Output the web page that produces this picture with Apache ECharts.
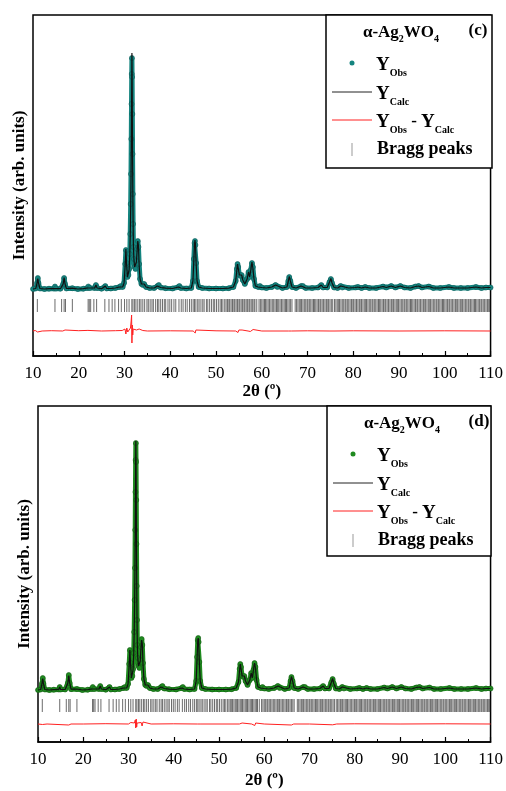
<!DOCTYPE html>
<html>
<head>
<meta charset="utf-8">
<script src="https://cdn.jsdelivr.net/npm/echarts@6/dist/echarts.min.js"></script>
<style>
  html, body { margin: 0; padding: 0; background: #fff; }
  #main { width: 506px; height: 791px; }
</style>
</head>
<body>
<div id="main"></div>
<script>
// 2theta grid shared by the observed / calculated patterns of both samples
var twoTheta = [
  10.0, 10.6, 10.9, 11.05, 11.2, 11.5, 12.5, 13.5, 14.6, 14.8,
  15.0, 16.0, 16.6, 16.8, 17.0, 17.3, 18.6, 19.8, 21.0, 21.9,
  22.1, 22.4, 23.5, 23.75, 24.0, 25.0, 25.8, 26.1, 27.0, 28.0,
  28.9, 29.2, 29.6, 29.9, 30.15, 30.3, 30.45, 30.65, 30.85, 31.0,
  31.15, 31.25, 31.35, 31.42, 31.48, 31.53, 31.58, 31.62, 31.66, 31.71,
  31.76, 31.82, 31.88, 31.95, 32.05, 32.2, 32.4, 32.6, 32.75, 32.9,
  33.05, 33.2, 33.4, 33.7, 34.0, 34.3, 34.7, 35.5, 36.5, 37.2,
  37.5, 37.9, 39.0, 40.5, 41.8, 42.0, 42.3, 43.5, 44.6, 44.95,
  45.15, 45.3, 45.4, 45.5, 45.65, 45.85, 46.2, 47.0, 48.5, 50.0,
  51.5, 52.8, 53.8, 54.3, 54.55, 54.7, 54.85, 55.1, 55.4, 55.6,
  55.85, 56.3, 56.8, 57.1, 57.35, 57.6, 57.85, 58.05, 58.3, 58.6,
  59.2, 59.6, 60.0, 61.0, 62.2, 63.0, 63.4, 64.5, 65.5, 65.8,
  66.0, 66.25, 66.6, 67.5, 68.6, 69.0, 69.6, 71.0, 72.3, 73.0,
  73.4, 74.3, 74.8, 75.1, 75.35, 75.8, 76.6, 77.2, 77.6, 79.0,
  80.5, 81.0, 81.8, 82.6, 83.5, 85.0, 86.5, 87.2, 88.3, 89.2,
  90.3, 91.2, 92.5, 93.6, 94.3, 95.0, 96.5, 97.5, 99.0, 100.9,
  102.0, 103.5, 105.0, 106.8, 108.0, 109.0, 110.0
];

// panel (c)
var obsC = [
  0, 0.5, 6, 11, 6, 0.5, 0, 0.3, 0.5, 2.5,
  0.5, 0.3, 5, 11, 5, 0.5, 0.8, 0, 0.3, 1,
  2.5, 1, 1, 4, 1, 0.3, 3, 0.5, 0.5, 1,
  2, 3, 2, 6, 25, 39, 26, 12, 14, 20,
  35, 55, 85, 115, 150, 185, 215, 231, 212, 175,
  135, 95, 65, 42, 30, 22, 20, 28, 40, 48,
  42, 25, 10, 5, 4, 5, 2, 1, 1, 3,
  4, 1.5, 0.8, 0.5, 2, 3, 1, 0.5, 1, 8,
  30, 46, 48, 44, 26, 8, 2, 1, 0.5, 0.5,
  0.5, 0.8, 2, 8, 20, 25, 22, 14, 13, 14,
  9, 5, 10, 17, 12, 19, 26, 22, 10, 3,
  2, 3, 1.5, 1, 2, 4, 2, 1, 2, 8,
  12, 8, 2, 1, 3, 3, 1, 1, 1.5, 4,
  1.5, 1.5, 7, 10, 6, 1.5, 1, 3, 1.5, 1,
  1.5, 2, 1, 2, 1, 1, 2.5, 1.5, 3, 1.5,
  3, 1.5, 1, 2.5, 3, 1.5, 2.5, 1, 1, 2,
  1, 1, 1, 2, 1, 1.5, 1.5
];
var calcC = [
  0, 0.5, 6, 10.5, 6, 0.5, 0, 0.3, 0.5, 2.5,
  0.5, 0.3, 5, 11.5, 5, 0.5, 0.8, 0, 0.3, 1,
  2.5, 1, 1, 4, 1, 0.3, 3, 0.5, 0.5, 1,
  2, 3, 2, 6, 24, 40, 25, 12, 14, 19,
  34, 53, 82, 110, 140, 172, 205, 236, 216, 172,
  134, 96, 66, 42, 30, 22, 20, 27, 38, 48,
  43, 23, 10, 5, 4, 5, 2, 1, 1, 3,
  4, 1.5, 0.8, 0.5, 2, 3, 1, 0.5, 1, 8,
  29, 45, 49, 45, 26, 8, 2, 1, 0.5, 0.5,
  0.5, 0.8, 2, 8, 19, 25, 23, 14, 13, 14,
  9, 5, 10, 17, 12, 19, 27, 21, 10, 3,
  2, 3, 1.5, 1, 2, 4, 2, 1, 2, 8,
  12.5, 8, 2, 1, 3, 3, 1, 1, 1.5, 4,
  1.5, 1.5, 7, 10.5, 6, 1.5, 1, 3, 1.5, 1,
  1.5, 2, 1, 2, 1, 1, 2.5, 1.5, 3, 1.5,
  3, 1.5, 1, 2.5, 3, 1.5, 2.5, 1, 1, 2,
  1, 1, 1, 2, 1, 1.5, 1.5
];
var diffC = [
  [10, 0], [10.5, 0.5], [11, -1], [11.3, 0.5], [12, 0], [14, 0.3], [16.5, 0], [16.8, -2], [17, 1], [17.3, 0],
  [20, 0.3], [22, 0.6], [22.2, -0.4], [25, 0], [28, 0.3], [29.5, 0.5], [30.1, 2], [30.3, -3], [30.5, 3], [30.7, -1],
  [31, 1], [31.3, 3], [31.45, 10], [31.55, 16], [31.62, -12], [31.7, 6], [31.8, -4], [31.9, 2], [32.1, 0], [32.6, 1],
  [32.85, 3], [33, -1], [33.2, 2], [33.5, 0], [34, 0.5], [35, 0], [40, 0.2], [45, 0], [45.3, 2], [45.45, -2],
  [45.6, 1], [46, 0], [50, 0.2], [54.3, 0], [54.6, 1.5], [54.8, -1.5], [55, 1], [55.4, -0.5], [55.7, 1], [56, 0],
  [57, 0], [57.2, 1], [57.5, -0.5], [57.9, -2], [58.1, 1.5], [58.4, 0], [60, 0], [65.8, 0], [66, -1.5], [66.2, 0.5],
  [66.5, 0], [70, 0.2], [74.9, 0], [75.1, -1], [75.3, 0.5], [76, 0], [80, 0.2], [90, 0], [100, 0.2], [110, 0]
];

// panel (d)
var obsD = [
  0, 0.5, 6.5, 12, 6.5, 0.5, 0, 0.3, 0.5, 3,
  0.5, 0.5, 7, 15, 7, 0.8, 1, 0, 0.3, 1,
  3, 1, 1, 4, 1, 0.3, 3, 0.5, 0.5, 1,
  2, 3, 2, 6, 26, 40, 27, 12, 14, 21,
  37, 58, 90, 122, 160, 198, 230, 247, 228, 190,
  146, 104, 70, 45, 32, 24, 22, 30, 43, 51,
  45, 27, 11, 5, 4, 5, 2, 1, 1, 3,
  4, 1.5, 0.8, 0.5, 2, 3, 1, 0.5, 1, 9,
  33, 50, 52, 48, 28, 9, 2, 1, 0.5, 0.5,
  0.5, 0.8, 2, 8, 21, 26, 23, 14, 13, 14,
  9, 5, 10, 17, 12, 20, 27, 23, 10, 3,
  2, 3, 1.5, 1, 2, 4, 2, 1, 2, 9,
  13, 9, 2, 1, 3, 3, 1, 1, 1.5, 4,
  1.5, 1.5, 7.5, 11, 6.5, 1.5, 1, 3, 1.5, 1,
  1.5, 2, 1, 2, 1, 1, 2.5, 1.5, 3, 1.5,
  3, 1.5, 1, 2.5, 3, 1.5, 2.5, 1, 1, 2,
  1, 1, 1, 2, 1, 1.5, 1.5
];
var calcD = [
  0, 0.5, 6.5, 11.5, 6.5, 0.5, 0, 0.3, 0.5, 3,
  0.5, 0.5, 7, 14.5, 7, 0.8, 1, 0, 0.3, 1,
  3, 1, 1, 4, 1, 0.3, 3, 0.5, 0.5, 1,
  2, 3, 2, 6, 25, 40, 26, 12, 14, 20,
  36, 57, 88, 119, 156, 194, 226, 249, 229, 188,
  146, 103, 70, 45, 32, 24, 22, 29, 42, 50,
  46, 26, 11, 5, 4, 5, 2, 1, 1, 3,
  4, 1.5, 0.8, 0.5, 2, 3, 1, 0.5, 1, 9,
  32, 49, 52, 48, 28, 9, 2, 1, 0.5, 0.5,
  0.5, 0.8, 2, 8, 20, 26, 24, 14, 13, 14,
  9, 5, 10, 17, 12, 20, 27, 22, 10, 3,
  2, 3, 1.5, 1, 2, 4, 2, 1, 2, 9,
  13.5, 9, 2, 1, 3, 3, 1, 1, 1.5, 4,
  1.5, 1.5, 7.5, 11.5, 6.5, 1.5, 1, 3, 1.5, 1,
  1.5, 2, 1, 2, 1, 1, 2.5, 1.5, 3, 1.5,
  3, 1.5, 1, 2.5, 3, 1.5, 2.5, 1, 1, 2,
  1, 1, 1, 2, 1, 1.5, 1.5
];
var diffD = [
  [10, 0], [11, -0.5], [12, 0], [16.8, -1], [17, 0.5], [17.3, 0], [20, 0], [25, 0.3], [30, 0], [30.3, -1.5],
  [30.5, 1.5], [30.8, 0], [31.3, 1], [31.5, 4], [31.6, -4], [31.7, 5], [31.8, -3], [31.9, 1], [32.2, 0], [32.8, 1.5],
  [33.0, -2], [33.2, 2], [33.5, 0], [35, 0], [40, 0.2], [45.2, 0], [45.4, -1.5], [45.6, 1], [46, 0], [50, 0],
  [54.5, 0], [54.7, 2], [54.9, -2], [55.1, 1], [55.5, 0], [57.2, 0], [57.5, 1], [57.9, -1.5], [58.1, 1], [58.4, 0],
  [60, 0], [66, -1], [66.2, 0.5], [66.5, 0], [70, 0], [75.1, -0.8], [75.3, 0.5], [76, 0], [80, 0.2], [90, 0],
  [100, 0.2], [110, 0]
];

// Bragg reflection positions of alpha-Ag2WO4 (same phase in both panels)
var braggPeaks = [
  10.95, 14.8, 16.25, 16.8, 17.1, 18.6, 22.05, 22.3, 22.6, 23.3, 23.9, 25.7, 26.6, 27.3, 27.9, 28.7, 29.3, 30.0, 30.5, 31.0,
  31.6, 31.85, 32.2, 32.5, 32.9, 33.3, 33.6, 34.0, 34.4, 34.9, 35.2, 35.6, 36.0, 36.3, 36.8, 37.2, 37.5, 37.9, 38.3, 38.7,
  39.0, 39.5, 39.9, 40.3, 40.8, 41.2, 41.9, 42.4, 42.8, 43.3, 43.7, 44.2, 44.6, 45.0, 45.3, 45.6, 46.0, 46.3, 46.7, 47.1,
  47.4, 47.9, 48.2, 48.6, 49.0, 49.4, 49.7, 50.1, 50.5, 50.9, 51.2, 51.5, 51.9, 52.2, 52.5, 52.8, 53.0, 53.3, 53.6, 53.9,
  54.1, 54.4, 54.7, 55.0, 55.2, 55.5, 55.8, 56.1, 56.3, 56.6, 56.9, 57.2, 57.4, 57.7, 58.0, 58.3, 58.5, 58.9, 59.4, 59.7,
  60.0, 60.3, 60.6, 60.8, 61.1, 61.4, 61.7, 62.0, 62.3, 62.6, 62.9, 63.2, 63.4, 63.7, 64.0, 64.3, 64.6, 64.9, 65.2, 65.4,
  65.7, 66.0, 66.3, 66.6, 67.3, 67.6, 67.9, 68.2, 68.5, 68.7, 69.0, 69.3, 69.6, 69.9, 70.1, 70.4, 70.7, 71.0, 71.3, 71.5,
  71.8, 72.1, 72.4, 72.7, 72.9, 73.2, 73.5, 73.8, 74.1, 74.3, 74.6, 74.9, 75.2, 75.5, 75.9, 76.2, 76.5, 76.8, 77.0, 77.3,
  77.6, 77.9, 78.2, 78.4, 78.7, 79.0, 79.3, 79.6, 79.9, 80.1, 80.4, 80.7, 81.0, 81.3, 81.5, 81.8, 82.1, 82.4, 82.7, 82.9,
  83.2, 83.5, 83.8, 84.1, 84.3, 84.6, 84.9, 85.2, 85.5, 85.7, 86.0, 86.3, 86.6, 86.9, 87.1, 87.4, 87.7, 88.0, 88.3, 88.5,
  88.8, 89.1, 89.4, 89.7, 89.9, 90.2, 90.5, 90.8, 91.1, 91.3, 91.6, 91.9, 92.2, 92.5, 92.7, 93.0, 93.3, 93.6, 93.9, 94.1,
  94.4, 94.7, 95.0, 95.3, 95.5, 95.8, 96.1, 96.4, 96.7, 96.9, 97.2, 97.5, 97.8, 98.1, 98.3, 98.6, 98.9, 99.2, 99.5, 99.7,
  100.0, 100.3, 100.6, 100.9, 101.1, 101.4, 101.7, 102.0, 102.3, 102.5, 102.8, 103.1, 103.4, 103.7, 103.9, 104.2, 104.5, 104.8, 105.1, 105.3,
  105.6, 105.9, 106.2, 106.5, 106.7, 107.0, 107.3, 107.6, 107.9, 108.1, 108.4, 108.7, 109.0, 109.3, 109.5, 109.8
];

var xTicks = [10, 20, 30, 40, 50, 60, 70, 80, 90, 100, 110];

var SERIF = "'Liberation Serif', 'Times New Roman', serif";

function pairs(xs, ys) {
  return xs.map(function (x, i) { return [x, ys[i]]; });
}

function xAxisFor(gridIndex, nameGap) {
  return {
    gridIndex: gridIndex,
    type: 'value',
    min: xTicks[0],
    max: xTicks[xTicks.length - 1],
    interval: 10,
    name: '2θ (º)',
    nameLocation: 'middle',
    nameGap: nameGap,
    nameTextStyle: { fontFamily: SERIF, fontWeight: 'bold', fontSize: 17, color: '#000' },
    axisLine: { show: true, onZero: false, lineStyle: { color: '#000', width: 1.5 } },
    axisTick: { show: true, inside: true, length: 5, lineStyle: { color: '#000', width: 1.2 } },
    minorTick: { show: true, splitNumber: 2, length: 3, lineStyle: { color: '#000', width: 1 } },
    axisLabel: { fontFamily: SERIF, fontSize: 17, color: '#000', margin: 9 },
    splitLine: { show: false }
  };
}

function yAxisFor(gridIndex, min, max) {
  return {
    gridIndex: gridIndex,
    type: 'value',
    min: min,
    max: max,
    name: 'Intensity (arb. units)',
    nameLocation: 'middle',
    nameGap: 5,
    nameTextStyle: { fontFamily: SERIF, fontWeight: 'bold', fontSize: 17, color: '#000' },
    axisLine: { show: false },
    axisTick: { show: false },
    axisLabel: { show: false },
    splitLine: { show: false }
  };
}

function patternSeries(idx, obs, calc, diff, braggY, diffY, color, edge) {
  return [
    {
      type: 'line', xAxisIndex: idx, yAxisIndex: idx,
      data: pairs(twoTheta, obs),
      symbol: 'circle', symbolSize: 5, showAllSymbol: true,
      lineStyle: { color: color, width: 5 },
      itemStyle: { color: color, borderColor: edge, borderWidth: 0.6 },
      z: 2
    },
    {
      type: 'line', xAxisIndex: idx, yAxisIndex: idx,
      data: pairs(twoTheta, calc),
      showSymbol: false,
      lineStyle: { color: '#111', width: 1.2 },
      z: 3
    },
    {
      type: 'scatter', xAxisIndex: idx, yAxisIndex: idx,
      data: braggPeaks.map(function (t) { return [t, braggY]; }),
      symbol: 'rect', symbolSize: [1, 13],
      itemStyle: { color: '#333', opacity: 0.72 },
      z: 1
    },
    {
      type: 'line', xAxisIndex: idx, yAxisIndex: idx,
      data: diff.map(function (p) { return [p[0], p[1] + diffY]; }),
      showSymbol: false,
      lineStyle: { color: '#ff2020', width: 1 },
      z: 2
    }
  ];
}

var richY = {
  y: { fontFamily: SERIF, fontWeight: 'bold', fontSize: 19, lineHeight: 26, fill: '#000' },
  s: { fontFamily: SERIF, fontWeight: 'bold', fontSize: 10, lineHeight: 10, verticalAlign: 'bottom', fill: '#000' },
  m: { fontFamily: SERIF, fontWeight: 'bold', fontSize: 17, lineHeight: 26, fill: '#000' }
};
var richT = {
  b: { fontFamily: SERIF, fontWeight: 'bold', fontSize: 17, lineHeight: 22, fill: '#000' },
  s: { fontFamily: SERIF, fontWeight: 'bold', fontSize: 10, lineHeight: 10, verticalAlign: 'bottom', fill: '#000' }
};

function legendBox(x0, y0, w, h, tag, dotColor) {
  var tx = x0 + 50;
  return [
    { type: 'rect', shape: { x: x0, y: y0, width: w, height: h },
      style: { fill: '#fff', stroke: '#000', lineWidth: 1.5 }, z: 10 },
    { type: 'text', z: 11, style: { x: x0 + 75, y: y0 + 18, text: '{b|α-Ag}{s|2}{b|WO}{s|4}', rich: richT,
      verticalAlign: 'middle', align: 'center' } },
    { type: 'text', z: 11, style: { x: x0 + 152, y: y0 + 16, text: tag, fill: '#000',
      font: 'bold 17px ' + SERIF, verticalAlign: 'middle', align: 'center' } },
    { type: 'circle', z: 11, shape: { cx: x0 + 26, cy: y0 + 48, r: 2.5 }, style: { fill: dotColor } },
    { type: 'text', z: 11, style: { x: tx, y: y0 + 50, text: '{y|Y}{s|Obs}', rich: richY, verticalAlign: 'middle' } },
    { type: 'line', z: 11, shape: { x1: x0 + 6, y1: y0 + 77, x2: x0 + 46, y2: y0 + 77 }, style: { stroke: '#222', lineWidth: 1 } },
    { type: 'text', z: 11, style: { x: tx, y: y0 + 79, text: '{y|Y}{s|Calc}', rich: richY, verticalAlign: 'middle' } },
    { type: 'line', z: 11, shape: { x1: x0 + 6, y1: y0 + 105, x2: x0 + 46, y2: y0 + 105 }, style: { stroke: '#ff2020', lineWidth: 1 } },
    { type: 'text', z: 11, style: { x: tx, y: y0 + 107, text: '{y|Y}{s|Obs}{m| - }{y|Y}{s|Calc}', rich: richY, verticalAlign: 'middle' } },
    { type: 'line', z: 11, shape: { x1: x0 + 26, y1: y0 + 128, x2: x0 + 26, y2: y0 + 141 }, style: { stroke: '#999', lineWidth: 1 } },
    { type: 'text', z: 11, style: { x: tx + 1, y: y0 + 134, text: 'Bragg peaks', fill: '#000',
      font: 'bold 18px ' + SERIF, verticalAlign: 'middle' } }
  ];
}

var chart = echarts.init(document.getElementById('main'));

var option = {
  animation: false,
  backgroundColor: '#fff',
  grid: [
    { left: 33, top: 15, width: 459, height: 341, show: true, borderColor: '#000', borderWidth: 1.5, backgroundColor: 'transparent' },
    { left: 38, top: 406, width: 453, height: 336, show: true, borderColor: '#000', borderWidth: 1.5, backgroundColor: 'transparent' }
  ],
  xAxis: [xAxisFor(0, 25), xAxisFor(1, 30)],
  yAxis: [yAxisFor(0, -67, 274), yAxisFor(1, -52, 284)],
  series: [].concat(
    patternSeries(0, obsC, calcC, diffC, -16.5, -42, '#14847f', '#0b5a57'),
    patternSeries(1, obsD, calcD, diffD, -15.5, -34, '#1f8a1f', '#125a12')
  ),
  graphic: [].concat(
    legendBox(326, 15, 166, 153, '(c)', '#14847f'),
    legendBox(327, 406, 164, 150, '(d)', '#1f8a1f')
  )
};

chart.setOption(option);
window.addEventListener('resize', function () { chart.resize(); });
</script>
</body>
</html>
